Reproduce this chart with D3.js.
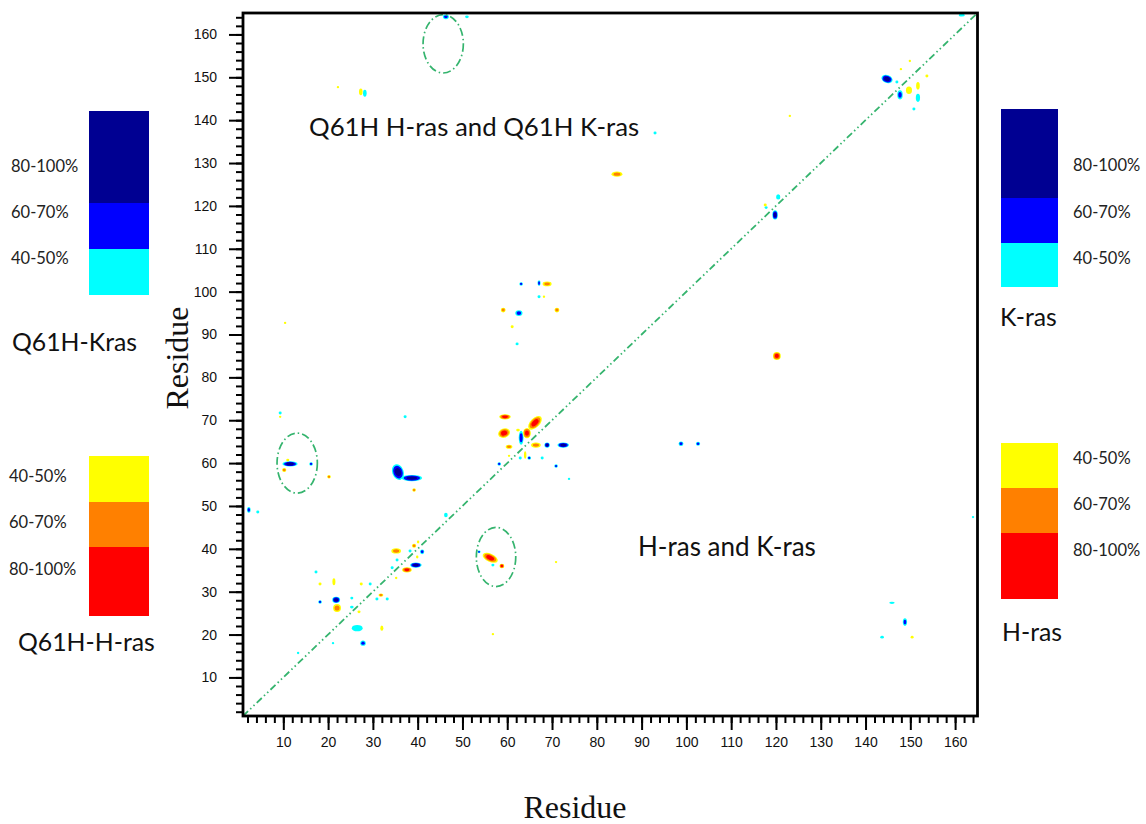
<!DOCTYPE html>
<html><head><meta charset="utf-8">
<script src="https://cdn.jsdelivr.net/npm/d3@7"></script>
<style>body{margin:0;background:#fff} svg{display:block}</style>
</head><body><svg id="c" width="1146" height="824"></svg>
<script>
// ---------- data ----------
const residueDomain = [1, 165];
const majorTicks = d3.range(10, 161, 10);
const minorTicks = d3.range(2, 165, 2);
const levelLabels = ["40-50%", "60-70%", "80-100%"];
const kColors = ["#00ffff", "#0000ff", "#000092"];
const hColors = ["#ffff00", "#ff8000", "#ff0000"];
// [residueX, residueY, level(1..3), spanX(residues), spanY(residues), tilt(deg)]
const kContacts = [
  [46.3,164.1,2,1.0,0.8,0],[51.0,164.1,1,0.6,0.5,0],[28.2,146.3,1,0.6,1.2,0],[93.0,137.0,1,0.5,0.5,0],
  [119.8,117.9,3,0.9,1.6,0],[120.5,122.1,1,0.7,0.9,0],[117.8,119.6,1,0.5,0.5,0],
  [144.8,149.6,3,1.9,1.4,20],[147.7,145.9,2,0.9,1.6,0],[151.7,145.2,1,0.7,1.4,0],[150.8,142.6,1,0.5,0.5,0],
  [147.0,148.9,1,0.5,0.5,0],[161.5,164.5,1,1.0,0.5,0],[145.9,27.4,1,0.9,0.4,0],[148.8,22.9,2,0.7,1.3,0],
  [143.7,19.4,1,0.6,0.5,0],[164.0,47.4,1,0.4,0.4,0],[98.8,64.5,2,0.8,0.8,0],[102.6,64.5,2,0.7,0.7,0],
  [63.1,101.8,2,0.6,0.6,0],[67.1,102.0,2,0.5,1.0,0],[67.1,98.8,1,0.5,0.5,0],[62.6,95.0,2,1.2,1.0,0],
  [62.2,87.8,1,0.5,0.5,0],[63.1,65.9,2,0.8,2.4,0],[68.9,64.2,3,0.9,0.9,0],[72.5,64.2,3,1.9,0.9,0],
  [62.9,61.2,1,0.5,0.5,0],[64.9,61.2,2,0.6,0.6,0],[67.8,61.2,1,0.5,0.5,0],[58.2,59.8,2,0.6,0.6,0],
  [70.9,59.3,2,0.6,0.6,0],[73.8,56.3,1,0.4,0.4,0],[9.3,71.7,1,0.5,0.5,0],[11.5,59.8,3,2.5,0.9,0],
  [16.2,59.8,2,0.6,0.6,0],[37.2,70.8,1,0.5,0.5,0],[35.6,57.9,3,1.9,2.8,-20],[38.7,56.5,3,3.4,1.1,0],
  [2.3,49.1,2,0.6,1.0,0],[4.3,48.6,1,0.5,0.5,0],[46.3,47.9,1,0.6,0.8,0],[38.3,39.5,1,0.5,0.5,0],
  [41.0,39.3,2,0.7,0.8,0],[35.4,37.4,1,0.5,0.5,0],[39.6,36.2,3,1.9,0.9,0],[34.3,35.6,1,0.5,0.5,0],
  [17.3,34.6,1,0.5,0.5,0],[18.2,27.6,2,0.6,0.6,0],[21.8,28.1,3,1.3,1.1,0],[29.4,31.8,1,0.5,0.5,0],
  [25.3,28.5,1,0.5,0.5,0],[25.3,26.4,1,0.6,0.5,0],[30.9,28.3,1,0.5,0.5,0],[33.2,28.3,1,0.5,0.5,0],
  [26.5,21.5,1,1.8,1.1,0],[27.8,18.0,2,0.9,0.9,0],[21.1,18.0,1,0.4,0.4,0],[13.3,15.7,1,0.4,0.4,0],
  [53.7,39.3,2,0.5,0.5,0],[56.8,36.2,1,0.5,0.5,0]
];
const hContacts = [
  [22.2,147.7,1,0.4,0.4,0],[27.3,146.6,1,0.6,1.2,0],[84.5,127.4,2,1.8,0.9,0],[117.6,120.2,1,0.5,0.5,0],
  [120.2,85.0,3,1.3,1.4,0],[123.1,141.0,1,0.4,0.4,0],[149.7,147.0,1,1.0,1.3,0],[151.7,148.0,1,0.6,1.3,0],
  [149.9,153.8,1,0.4,0.4,0],[147.9,151.9,1,0.4,0.4,0],[153.7,150.3,1,0.5,0.5,0],[150.4,19.4,1,0.5,0.5,0],
  [68.9,101.8,2,1.5,0.8,0],[68.2,98.8,1,0.4,0.4,0],[59.1,95.7,2,0.8,0.8,0],[71.1,95.7,2,0.8,0.8,0],
  [61.1,91.8,1,0.5,0.5,0],[59.5,70.8,3,1.9,0.9,0],[59.3,67.0,3,2.0,1.6,-20],[66.2,69.4,3,2.8,1.6,-45],
  [64.4,67.0,3,1.3,1.8,0],[62.4,67.7,1,0.6,0.5,0],[66.4,64.2,2,1.6,0.9,0],[60.4,63.8,2,1.1,0.7,0],
  [64.0,61.9,1,0.4,1.3,0],[60.4,61.7,1,0.4,0.4,0],[9.3,70.8,1,0.4,0.4,0],[11.0,60.7,1,0.5,0.5,0],
  [10.2,58.4,2,0.7,0.7,0],[20.2,56.8,2,0.6,0.6,0],[39.2,53.7,2,0.6,0.6,0],[35.2,39.5,2,1.6,0.9,0],
  [39.2,40.7,2,0.7,0.7,0],[40.1,41.6,1,0.4,0.5,0],[39.9,38.1,1,0.4,0.5,0],[37.6,35.1,3,1.6,0.9,0],
  [35.2,33.2,1,0.4,0.4,0],[18.2,31.8,1,0.5,0.5,0],[21.3,32.3,1,0.5,1.2,0],[22.0,26.2,2,1.3,1.4,0],
  [27.4,31.8,1,0.5,0.5,0],[26.9,25.3,1,0.5,0.5,0],[31.8,29.2,2,0.8,0.6,0],[32.0,21.5,1,0.5,0.9,0],
  [56.2,37.9,3,2.7,1.4,25],[58.8,36.0,3,0.8,0.8,0],[56.8,20.1,1,0.4,0.4,0],[70.9,36.9,1,0.4,0.4,0],
  [10.4,92.7,1,0.4,0.4,0]
];
// [centerX, centerY, radiusX, radiusY] in residues
const circledRegions = [[45.7,157.8,4.5,6.8],[13.1,60.0,4.5,7.0],[57.5,38.1,4.4,6.9]];

// ---------- layout ----------
const svg = d3.select("#c");
const x = d3.scaleLinear().domain(residueDomain).range([243, 977.5]);
const y = d3.scaleLinear().domain(residueDomain).range([716, 13]);
const tickFont = "Arial, 'Liberation Sans', sans-serif";
const labelFont = "Lato, 'Open Sans', sans-serif";

// minor ticks
svg.append("g").attr("transform","translate(0,716)")
  .call(d3.axisBottom(x).tickValues(minorTicks).tickSize(7).tickFormat(""))
  .call(g=>{g.select(".domain").remove(); g.selectAll("line").attr("stroke","#000").attr("stroke-width",2);});
svg.append("g").attr("transform","translate(243,0)")
  .call(d3.axisLeft(y).tickValues(minorTicks).tickSize(7).tickFormat(""))
  .call(g=>{g.select(".domain").remove(); g.selectAll("line").attr("stroke","#000").attr("stroke-width",2);});
// major ticks
svg.append("g").attr("transform","translate(0,716)")
  .call(d3.axisBottom(x).tickValues(majorTicks).tickSize(14).tickPadding(7))
  .call(g=>{g.select(".domain").remove(); g.selectAll("line").attr("stroke","#000").attr("stroke-width",2);
    g.selectAll("text").attr("font-family",tickFont).attr("font-size",14).attr("fill","#111");});
svg.append("g").attr("transform","translate(243,0)")
  .call(d3.axisLeft(y).tickValues(majorTicks).tickSize(14).tickPadding(12))
  .call(g=>{g.select(".domain").remove(); g.selectAll("line").attr("stroke","#000").attr("stroke-width",2);
    g.selectAll("text").attr("font-family",tickFont).attr("font-size",14).attr("fill","#111");});

// contacts (drawn with a smoothing halo like the original contour rendering)
const halo = 1.35;
function drawContacts(data, colors){
  const g = svg.append("g");
  data.forEach(d=>{
    const [rx0, ry0, lvl, sx, sy, tilt] = d;
    const cx = x(rx0), cy = y(ry0);
    const w = halo*(x(rx0+sx)-x(rx0))/2, h = halo*(y(ry0)-y(ry0+sy))/2;
    const scales = lvl===3 ? [1,0.8,0.52] : lvl===2 ? [1,0.64] : [1];
    const bg = g.append("g").attr("transform",`translate(${cx},${cy}) rotate(${tilt})`);
    scales.forEach((s,i)=>{
      bg.append("ellipse").attr("rx",Math.max(w*s,0.9)).attr("ry",Math.max(h*s,0.9))
        .attr("fill",colors[i]);
    });
  });
}
drawContacts(kContacts, kColors);
drawContacts(hContacts, hColors);

// diagonal
svg.append("line").attr("x1",x(1)).attr("y1",y(1)).attr("x2",x(165)).attr("y2",y(165))
  .attr("stroke","#35b46e").attr("stroke-width",1.8)
  .attr("stroke-dasharray","7,3,1.5,3,1.5,3");

// circled regions
svg.append("g").selectAll("ellipse").data(circledRegions).join("ellipse")
  .attr("cx",d=>x(d[0])).attr("cy",d=>y(d[1]))
  .attr("rx",d=>x(d[0]+d[2])-x(d[0])).attr("ry",d=>y(d[1])-y(d[1]+d[3]))
  .attr("fill","none").attr("stroke","#35b46e").attr("stroke-width",1.7)
  .attr("stroke-dasharray","8,3,1.5,3");

// frame
svg.append("rect").attr("x",x(1)).attr("y",y(165)).attr("width",x(165)-x(1)).attr("height",y(1)-y(165))
  .attr("fill","none").attr("stroke","#000").attr("stroke-width",2.8);

// axis titles
svg.append("text").attr("x",575).attr("y",818).attr("text-anchor","middle")
  .attr("font-family","'Liberation Serif','Times New Roman',serif").attr("font-size",32).attr("fill","#111").text("Residue");
svg.append("text").attr("transform","translate(188,358) rotate(-90)").attr("text-anchor","middle")
  .attr("font-family","'Liberation Serif','Times New Roman',serif").attr("font-size",32).attr("fill","#111").text("Residue");

// annotations in plot
svg.append("text").attr("x",309).attr("y",136).attr("font-family",labelFont).attr("font-size",25.8).attr("fill","#111")
  .text("Q61H H-ras and Q61H K-ras");
svg.append("text").attr("x",638).attr("y",556).attr("font-family",labelFont).attr("font-size",26).attr("fill","#111")
  .text("H-ras and K-ras");

// legends
function legend(cfg){
  const g = svg.append("g");
  let yy = cfg.top;
  cfg.order.forEach((lvl,i)=>{
    const hgt = cfg.heights[i];
    g.append("rect").attr("x",cfg.x).attr("y",yy).attr("width",cfg.w).attr("height",hgt).attr("fill",cfg.colors[lvl]);
    g.append("text").attr("x",cfg.labelX).attr("y",cfg.labelY[i]).attr("dy","0.35em")
      .attr("font-family",labelFont).attr("font-size",16.5).attr("fill","#222").text(levelLabels[lvl]);
    yy += hgt;
  });
  g.append("text").attr("x",cfg.titleX).attr("y",cfg.titleY).attr("dy","0.35em")
    .attr("font-family",labelFont).attr("font-size",24.8).attr("fill","#111").text(cfg.title);
}
legend({x:89,w:60,top:111,heights:[92,46,46],order:[2,1,0],colors:kColors,labelX:11,labelY:[166,212,258],title:"Q61H-Kras",titleX:12,titleY:342});
legend({x:89,w:60,top:456,heights:[46,45,69],order:[0,1,2],colors:hColors,labelX:9,labelY:[476,522,569],title:"Q61H-H-ras",titleX:18,titleY:642});
legend({x:1001,w:57,top:109,heights:[89,45,44],order:[2,1,0],colors:kColors,labelX:1073,labelY:[165,212,258],title:"K-ras",titleX:1000,titleY:317});
legend({x:1001,w:57,top:443,heights:[45,45,66],order:[0,1,2],colors:hColors,labelX:1073,labelY:[458,504,550],title:"H-ras",titleX:1002,titleY:632});
</script></body></html>
